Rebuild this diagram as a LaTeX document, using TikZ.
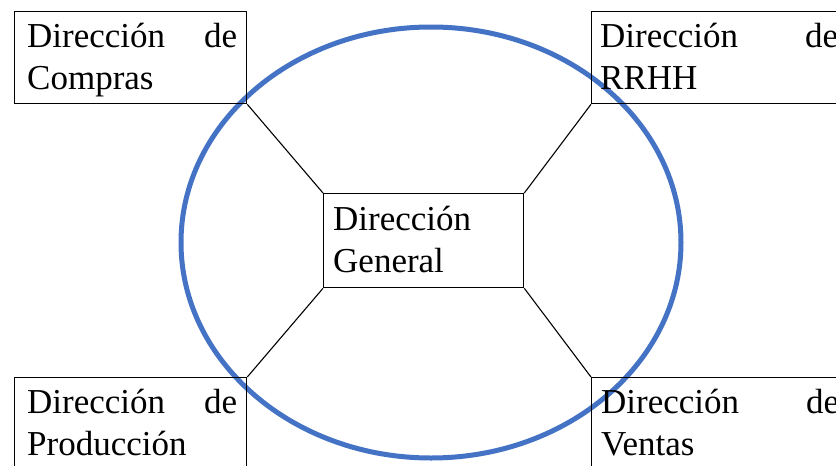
\documentclass[tikz,border=0pt]{standalone}
\usepackage{fontspec}
\setmainfont{Liberation Serif}
\definecolor{ringblue}{RGB}{68,114,196}
\begin{document}
\begin{tikzpicture}[x=1pt,y=-1pt,
  box/.style={draw=black,line width=1.3pt,inner sep=0pt,anchor=north west,minimum height=92pt},
  txt/.style={inner sep=0pt,anchor=base west,font=\fontsize{35}{42}\selectfont},
  link/.style={draw=black,line width=1.1pt},
  ring/.style={draw=ringblue,line width=5pt}]
\useasboundingbox (0,0) rectangle (836,466);
\clip (0,0) rectangle (836,466);
\fill[white] (0,0) rectangle (836,466);
% ring
\draw[ring] (431,242.5) ellipse [x radius=250pt, y radius=215.5pt];
% boxes
\node[box,minimum width=232pt] (tl) at (14,11) {};
\node[box,minimum width=259pt] (tr) at (591,11) {};
\node[box,minimum width=232pt] (bl) at (14,377) {};
\node[box,minimum width=259pt] (br) at (591,377) {};
\node[box,minimum width=200pt,minimum height=94pt] (c) at (323,193) {};
% texts
\node[txt] (tlt) at (27,47) {\parbox[t]{210pt}{Dirección\hfill de\\Compras}};
\node[txt] (trt) at (600,47) {\parbox[t]{238pt}{Dirección\hfill de\\RRHH}};
\node[txt] (blt) at (27,413) {\parbox[t]{210pt}{Dirección\hfill de\\Producción}};
\node[txt] (brt) at (601,413) {\parbox[t]{238pt}{Dirección\hfill de\\Ventas}};
\node[txt] (ct) at (333,230) {\parbox[t]{180pt}{Dirección\\General}};
% connectors
\draw[link] (tl.south east) -- (c.north west);
\draw[link] (tr.south west) -- (c.north east);
\draw[link] (bl.north east) -- (c.south west);
\draw[link] (br.north west) -- (c.south east);
\end{tikzpicture}
\end{document}
